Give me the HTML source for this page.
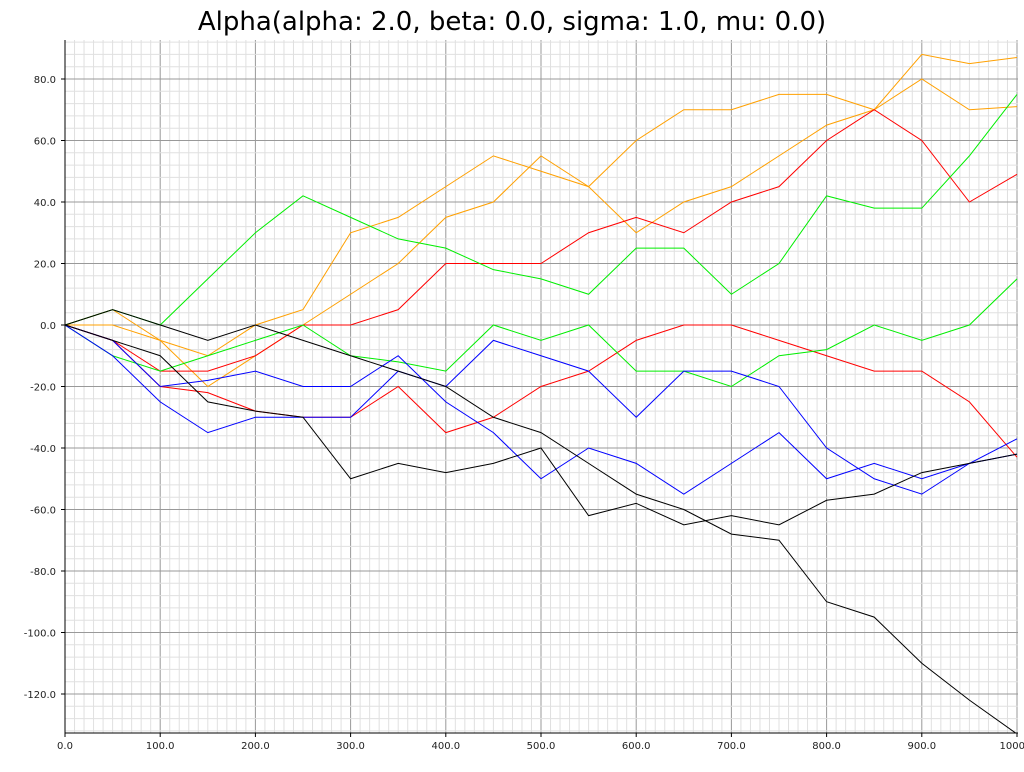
<!DOCTYPE html>
<html><head><meta charset="utf-8"><style>
body{margin:0;background:#fff;width:1024px;height:768px;overflow:hidden;font-family:"DejaVu Sans","Liberation Sans",sans-serif}
</style></head><body>
<svg id="chart" width="1024" height="768" xmlns="http://www.w3.org/2000/svg">
<text x="512" y="30" text-anchor="middle" font-size="26" font-family="DejaVu Sans, Liberation Sans, sans-serif">Alpha(alpha: 2.0, beta: 0.0, sigma: 1.0, mu: 0.0)</text>
<g id="grid"></g><g id="series" clip-path="url(#clip)"></g><g id="axes"></g>
<defs><clipPath id="clip"><rect x="65" y="40" width="953" height="693"/></clipPath></defs>
</svg>
<script>
const xTicks=[0,100,200,300,400,500,600,700,800,900,1000];
const yTicks=[80,60,40,20,0,-20,-40,-60,-80,-100,-120];
const steps=[0,50,100,150,200,250,300,350,400,450,500,550,600,650,700,750,800,850,900,950,1000];
const orangeA=[0,0,-5,-10,0,5,30,35,45,55,50,45,60,70,70,75,75,70,88,85,87];
const orangeB=[0,5,-5,-20,-10,0,10,20,35,40,55,45,30,40,45,55,65,70,80,70,71];
const redA=[0,-5,-15,-15,-10,0,0,5,20,20,20,30,35,30,40,45,60,70,60,40,49];
const redB=[0,-5,-20,-22,-28,-30,-30,-20,-35,-30,-20,-15,-5,0,0,-5,-10,-15,-15,-25,-43];
const greenA=[0,5,0,15,30,42,35,28,25,18,15,10,25,25,10,20,42,38,38,55,75];
const greenB=[0,-10,-15,-10,-5,0,-10,-12,-15,0,-5,0,-15,-15,-20,-10,-8,0,-5,0,15];
const blueA=[0,-10,-25,-35,-30,-30,-30,-15,-20,-5,-10,-15,-30,-15,-15,-20,-40,-50,-55,-45,-37];
const blueB=[0,-5,-20,-18,-15,-20,-20,-10,-25,-35,-50,-40,-45,-55,-45,-35,-50,-45,-50,-45,-42];
const blackA=[0,5,0,-5,0,-5,-10,-15,-20,-30,-35,-45,-55,-60,-68,-70,-90,-95,-110,-122,-133];
const blackB=[0,-5,-10,-25,-28,-30,-50,-45,-48,-45,-40,-62,-58,-65,-62,-65,-57,-55,-48,-45,-42];
const NS='http://www.w3.org/2000/svg';
const X0=65,X1=1018,Y0=40,Y1=733;
const xs=v=>65+v*0.952;
const ys=v=>325-v*3.075;
function mk(t,a,p){const e=document.createElementNS(NS,t);for(const k in a)e.setAttribute(k,a[k]);p.appendChild(e);return e;}
const grid=document.getElementById('grid'),axes=document.getElementById('axes'),ser=document.getElementById('series');
for(let v=0;v<=1000;v+=10){const l=mk('line',{x1:xs(v),x2:xs(v),y1:Y0,y2:Y1,stroke:v%100?'#e0e0e0':'#999','stroke-width':1},grid);

}
for(let v=-132;v<=92;v+=4){const l=mk('line',{x1:X0,x2:X1,y1:ys(v),y2:ys(v),stroke:v%20?'#e0e0e0':'#999','stroke-width':1},grid);

}
const ax=mk('line',{x1:X0,x2:X0,y1:Y0,y2:Y1,stroke:'#000'},axes);


const bx=mk('line',{x1:X0,x2:X1,y1:Y1,y2:Y1,stroke:'#000'},axes);


xTicks.forEach(v=>{mk('line',{x1:xs(v),x2:xs(v),y1:Y1,y2:Y1+4,stroke:'#000'},axes);
const t=mk('text',{x:xs(v),y:Y1+16,'text-anchor':'middle','font-size':10,fill:'#222'},axes);t.textContent=v.toFixed(1);

});
yTicks.forEach(v=>{mk('line',{x1:X0-4,x2:X0,y1:ys(v),y2:ys(v),stroke:'#000'},axes);
const t=mk('text',{x:X0-9,y:ys(v)+4,'text-anchor':'end','font-size':10,fill:'#222'},axes);t.textContent=v.toFixed(1);

});
const all=[[orangeA,'#ffa000','orange-a'],[orangeB,'#ffa000','orange-b'],[redA,'#ff0000','red-a'],[redB,'#ff0000','red-b'],[greenA,'#00ee00','green-a'],[greenB,'#00ee00','green-b'],[blueA,'#0000ff','blue-a'],[blueB,'#0000ff','blue-b'],[blackA,'#000000','black-a'],[blackB,'#000000','black-b']];
all.forEach(([d,c,n])=>{const p=mk('polyline',{points:d.map((v,i)=>xs(steps[i])+','+ys(v)).join(' '),fill:'none',stroke:c,'stroke-width':1},ser);

});
</script>
</body></html>
